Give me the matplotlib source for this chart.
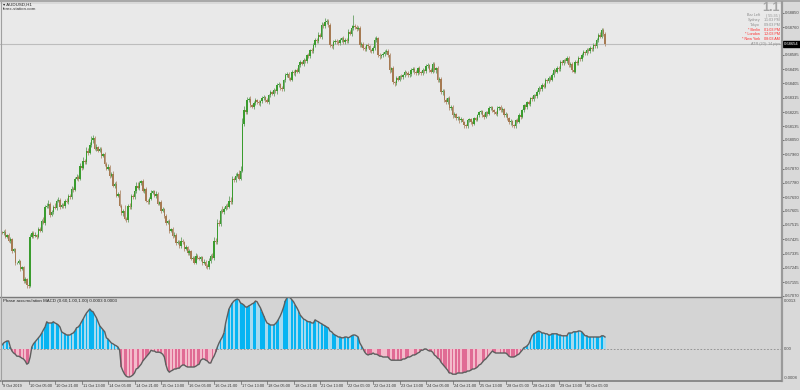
import numpy as np
import matplotlib
matplotlib.use("Agg")
import matplotlib.pyplot as plt
from matplotlib.lines import Line2D
from matplotlib.patches import Rectangle

plt.rcParams['font.family'] = ['Liberation Sans', 'DejaVu Sans']

# ---------------- data ----------------
# H1 closes, in points (1e-5) above 0.67000
close_pts = [
    466, 474, 441, 452, 416, 428, 352, 362, 277,
    277, 290, 239, 250, 163, 175, 138, 130, 441,
    466, 445, 453, 440, 491, 480, 542, 530, 630,
    636, 650, 580, 595, 630, 622, 668, 675, 630,
    643, 632, 668, 660, 700, 690, 744, 735, 807,
    819, 805, 889, 875, 920, 910, 983, 970, 1015,
    1047, 1060, 996, 1005, 983, 992, 952, 960, 901,
    870, 882, 826, 835, 763, 775, 700, 712, 636,
    592, 605, 554, 545, 636, 625, 700, 690, 731,
    763, 750, 782, 790, 731, 740, 668, 660, 681,
    719, 728, 700, 710, 649, 660, 605, 615, 573,
    529, 540, 479, 490, 447, 455, 403, 410, 384,
    416, 405, 365, 375, 340, 350, 302, 310, 277,
    321, 310, 302, 312, 277, 285, 258, 250, 289,
    321, 310, 416, 405, 529, 520, 605, 598, 618,
    636, 628, 668, 660, 807, 798, 826, 835, 807,
    857, 1150, 1236, 1225, 1299, 1310, 1267, 1260, 1280,
    1299, 1288, 1280, 1292, 1312, 1320, 1299, 1290, 1331,
    1350, 1340, 1362, 1355, 1394, 1402, 1375, 1368, 1425,
    1457, 1465, 1438, 1430, 1476, 1468, 1488, 1480, 1520,
    1539, 1530, 1551, 1545, 1583, 1575, 1615, 1608, 1646,
    1678, 1670, 1709, 1700, 1772, 1765, 1791, 1800, 1772,
    1646, 1638, 1665, 1675, 1665, 1658, 1678, 1688, 1665,
    1678, 1670, 1728, 1718, 1753, 1765, 1760, 1750, 1753,
    1646, 1655, 1627, 1620, 1646, 1638, 1615, 1608, 1627,
    1678, 1690, 1583, 1575, 1583, 1592, 1602, 1610, 1583,
    1488, 1500, 1413, 1405, 1438, 1430, 1450, 1444, 1457,
    1476, 1468, 1457, 1465, 1488, 1496, 1476, 1470, 1501,
    1476, 1470, 1488, 1482, 1513, 1520, 1488, 1480, 1526,
    1488, 1500, 1425, 1435, 1350, 1360, 1299, 1290, 1312,
    1249, 1260, 1204, 1212, 1185, 1192, 1173, 1180, 1160,
    1141, 1135, 1173, 1180, 1160, 1152, 1185, 1178, 1204,
    1223, 1230, 1204, 1196, 1223, 1215, 1249, 1255, 1236,
    1223, 1215, 1249, 1256, 1236, 1244, 1204, 1212, 1185,
    1160, 1168, 1141, 1135, 1173, 1165, 1204, 1196, 1236,
    1267, 1258, 1286, 1278, 1312, 1305, 1331, 1324, 1350,
    1375, 1368, 1394, 1386, 1425, 1418, 1438, 1430, 1457,
    1488, 1480, 1501, 1494, 1539, 1532, 1551, 1545, 1564,
    1520, 1530, 1488, 1480, 1539, 1532, 1564, 1556, 1583,
    1602, 1595, 1615, 1608, 1627, 1620, 1646, 1640, 1678,
    1709, 1700, 1741, 1715, 1654,
]
first_open_pts = 470

# upper / lower wick extension beyond the body, in points
hi_ext = [
    10, 8, 15, 6, 12, 9, 5, 11, 7,
    8, 14, 6, 10, 5, 12, 9, 20, 15,
    12, 9, 18, 7, 10, 14, 8, 25, 12,
    15, 20, 8, 12, 10, 22, 9, 14, 11,
    8, 12, 10, 15, 9, 13, 18, 10, 12,
    14, 9, 16, 11, 20, 12, 25, 15, 22,
    30, 18, 12, 20, 9, 14, 11, 8, 13,
    10, 15, 9, 12, 18, 8, 14, 10, 20,
    12, 9, 35, 14, 10, 16, 12, 9, 18,
    20, 25, 12, 10, 15, 9, 13, 11, 8,
    14, 10, 9, 16, 12, 8, 11, 10, 9,
    12, 8, 14, 9, 10, 13, 7, 11, 9,
    25, 10, 8, 12, 9, 11, 7, 10, 8,
    15, 12, 9, 10, 8, 13, 10, 12, 18,
    14, 20, 25, 18, 22, 15, 12, 30, 10,
    12, 15, 30, 20, 14, 10, 18, 12, 25,
    30, 40, 25, 18, 20, 12, 15, 10, 14,
    12, 10, 15, 9, 14, 11, 8, 13, 10,
    12, 9, 14, 10, 16, 12, 9, 15, 11,
    14, 10, 12, 9, 15, 11, 8, 12, 10,
    12, 9, 14, 11, 10, 13, 9, 15, 12,
    14, 10, 18, 12, 20, 15, 25, 12, 10,
    12, 9, 15, 11, 10, 14, 12, 9, 13,
    15, 12, 18, 14, 20, 70, 12, 10, 14,
    15, 12, 10, 14, 9, 12, 11, 10, 13,
    18, 14, 10, 12, 9, 14, 11, 10, 12,
    15, 10, 12, 9, 14, 11, 10, 12, 9,
    12, 10, 14, 9, 12, 11, 10, 13, 9,
    12, 10, 14, 11, 15, 12, 10, 13, 14,
    12, 10, 14, 9, 12, 10, 8, 12, 10,
    12, 10, 9, 11, 8, 10, 9, 12, 10,
    10, 12, 9, 11, 10, 12, 9, 11, 10,
    12, 10, 9, 13, 11, 10, 12, 9, 11,
    10, 12, 14, 9, 11, 10, 9, 12, 10,
    10, 12, 9, 11, 10, 12, 13, 11, 10,
    12, 10, 11, 13, 10, 12, 11, 10, 12,
    12, 10, 13, 11, 12, 10, 14, 11, 12,
    13, 10, 12, 14, 11, 12, 10, 13, 12,
    15, 12, 10, 13, 11, 14, 12, 10, 13,
    12, 10, 13, 11, 12, 10, 14, 12, 15,
    14, 20, 12, 10, 11,
]
lo_ext = [
    8, 12, 7, 10, 9, 15, 11, 8, 14,
    10, 7, 12, 9, 14, 10, 18, 12, 8,
    9, 12, 8, 11, 10, 7, 12, 9, 14,
    10, 14, 12, 8, 11, 9, 13, 10, 12,
    11, 9, 13, 8, 12, 10, 9, 14, 8,
    10, 13, 9, 12, 8, 11, 10, 14, 9,
    12, 15, 10, 18, 12, 9, 14, 10, 12,
    9, 12, 14, 10, 11, 15, 9, 12, 10,
    15, 20, 10, 9, 12, 8, 11, 10, 9,
    12, 9, 14, 18, 10, 12, 9, 13, 10,
    9, 12, 10, 14, 11, 9, 13, 10, 12,
    11, 9, 13, 10, 12, 9, 14, 10, 15,
    12, 10, 14, 9, 11, 13, 10, 12, 9,
    10, 12, 9, 11, 14, 10, 12, 9, 11,
    12, 10, 14, 9, 11, 13, 12, 10, 12,
    10, 14, 9, 12, 11, 10, 13, 12, 10,
    12, 10, 15, 9, 14, 12, 10, 11, 13,
    10, 12, 9, 14, 10, 12, 11, 9, 12,
    11, 9, 12, 10, 13, 11, 9, 12, 10,
    10, 13, 9, 11, 12, 10, 14, 9, 11,
    11, 9, 12, 10, 13, 9, 11, 10, 12,
    10, 12, 9, 11, 13, 10, 12, 14, 11,
    12, 10, 13, 11, 9, 12, 10, 14, 11,
    10, 12, 11, 9, 13, 10, 14, 12, 11,
    12, 14, 10, 13, 11, 12, 10, 14, 12,
    14, 12, 10, 13, 11, 9, 12, 10, 13,
    14, 12, 10, 13, 9, 11, 10, 12, 11,
    10, 12, 11, 9, 13, 10, 12, 11, 10,
    11, 10, 12, 13, 10, 12, 11, 10, 12,
    12, 14, 11, 13, 12, 15, 10, 12, 11,
    12, 10, 13, 11, 12, 10, 14, 12, 11,
    13, 10, 12, 11, 10, 12, 11, 10, 12,
    10, 12, 11, 13, 10, 12, 11, 10, 12,
    12, 10, 13, 11, 12, 10, 12, 11, 10,
    12, 14, 11, 10, 12, 11, 10, 12, 11,
    10, 12, 11, 10, 12, 10, 11, 12, 10,
    11, 10, 12, 11, 10, 12, 11, 10, 12,
    10, 12, 11, 10, 12, 11, 10, 12, 11,
    14, 12, 11, 10, 12, 11, 10, 12, 11,
    11, 10, 12, 11, 10, 12, 11, 10, 12,
    10, 12, 11, 10, 12,
]

# Phase accumulation MACD values, in 1e-5
macd_vals = [
    10, 15, 18, 20, 20, 5, -5, -10, -13,
    -18, -18, -20, -23, -25, -30, -38, -35, -20,
    5, 13, 18, 23, 28, 33, 40, 48, 55,
    68, 65, 65, 65, 68, 65, 63, 60, 55,
    43, 40, 38, 35, 35, 35, 38, 40, 45,
    53, 55, 60, 68, 75, 83, 90, 95, 100,
    95, 93, 85, 78, 68, 58, 53, 48, 43,
    28, 25, 20, 15, 13, 10, 8, 5, -3,
    -45, -55, -63, -68, -70, -70, -68, -65, -60,
    -50, -48, -43, -38, -30, -25, -20, -15, -10,
    -3, -5, -5, -8, -8, -8, -10, -13, -20,
    -40, -53, -58, -55, -53, -50, -50, -48, -48,
    -43, -40, -40, -43, -45, -45, -45, -45, -45,
    -43, -40, -38, -28, -25, -25, -28, -30, -35,
    -35, -25, -18, -8, 5, 15, 23, 30, 40,
    65, 83, 100, 108, 115, 120, 123, 125, 123,
    115, 113, 110, 105, 105, 108, 110, 113, 115,
    120, 118, 110, 103, 93, 83, 73, 65, 63,
    60, 60, 60, 63, 68, 75, 83, 93, 105,
    120, 128, 130, 128, 123, 118, 110, 103, 95,
    85, 80, 75, 73, 70, 68, 68, 65, 65,
    73, 70, 68, 65, 63, 60, 58, 55, 53,
    45, 43, 38, 35, 33, 30, 30, 28, 28,
    30, 30, 28, 30, 33, 35, 35, 33, 30,
    15, 8, 0, -8, -13, -15, -13, -13, -10,
    -13, -13, -15, -18, -18, -20, -20, -20, -20,
    -25, -28, -28, -28, -28, -28, -28, -28, -25,
    -25, -23, -20, -20, -18, -15, -15, -13, -10,
    -8, -3, -3, 0, 0, -3, -5, -5, -8,
    -15, -18, -23, -25, -33, -38, -43, -48, -53,
    -60, -60, -63, -63, -63, -60, -60, -60, -60,
    -58, -58, -55, -55, -53, -50, -50, -48, -45,
    -40, -38, -33, -28, -25, -20, -15, -10, -5,
    -8, -10, -10, -10, -10, -10, -10, -10, -13,
    -18, -20, -20, -20, -18, -15, -13, -8, -3,
    3, 5, 8, 13, 23, 33, 38, 40, 43,
    45, 43, 40, 40, 38, 38, 35, 35, 38,
    38, 38, 38, 35, 35, 33, 33, 33, 33,
    40, 40, 40, 43, 43, 43, 45, 45, 43,
    38, 33, 33, 30, 30, 30, 30, 30, 30,
    30, 30, 33, 33, 30,
]

date_labels = ["9 Oct 2019", "10 Oct 05:00", "10 Oct 21:00", "11 Oct 13:00",
               "14 Oct 05:00", "14 Oct 21:00", "15 Oct 13:00", "16 Oct 05:00",
               "16 Oct 21:00", "17 Oct 13:00", "18 Oct 05:00", "18 Oct 21:00",
               "21 Oct 13:00", "22 Oct 05:00", "22 Oct 21:00", "23 Oct 13:00",
               "24 Oct 05:00", "24 Oct 21:00", "25 Oct 13:00", "28 Oct 05:00",
               "28 Oct 21:00", "29 Oct 13:00", "30 Oct 05:00"]
bars_per_label = 16

price_ticks = [0.68850, 0.68760, 0.68585, 0.68495, 0.68405, 0.68315, 0.68225,
               0.68135, 0.68050, 0.67960, 0.67870, 0.67780, 0.67690, 0.67605,
               0.67515, 0.67425, 0.67335, 0.67245, 0.67155, 0.67070]
price_range = (0.67062, 0.68905)
macd_range = (-0.0008, 0.0013)

info_rows = [("Bar Left", "( 55:35 )", "#8c8c8c"),
             ("Sydney", "11:03 PM", "#8c8c8c"),
             ("Tokyo", "09:03 PM", "#8c8c8c"),
             ("* Berlin", "01:03 PM", "#ff2a2a"),
             ("* London", "12:03 PM", "#ff2a2a"),
             ("* New York", "08:03 AM", "#ff2a2a")]

# ---------------- figure ----------------
n = min(len(close_pts), len(hi_ext), len(lo_ext), len(macd_vals))
close = 0.67 + np.array(close_pts[:n]) / 1e5
opens = np.concatenate([[0.67 + first_open_pts / 1e5], close[:-1]])
highs = np.maximum(opens, close) + np.array(hi_ext[:n]) / 1e5
lows = np.minimum(opens, close) - np.array(lo_ext[:n]) / 1e5
macd = np.array(macd_vals[:n]) / 1e5
x = np.arange(n)

W, H = 800, 390
fig = plt.figure(figsize=(8, 3.9), dpi=100, facecolor="#d9d9d9")

def fx(px):
    return px / W

def fy(py):
    return 1 - py / H

sp = (605 - 2) / (n - 1)          # pixels per bar
xl = (-2 / sp, (781 - 2) / sp)

ax = fig.add_axes([0, fy(297), fx(781), (297 - 4) / H])
ax2 = fig.add_axes([0, fy(381), fx(781), (381 - 297) / H])

for a in (ax, ax2):
    for s in a.spines.values():
        s.set_visible(False)
    a.set_xlim(*xl)
    a.set_xticks([])

ax.set_facecolor("#e9e9e9")
ax2.set_facecolor("#d4d4d4")

# ---- candles ----
up = close >= opens
wick_cols = np.where(up, "#79aa76", "#b89a80")
ax.vlines(x, lows, highs, colors=wick_cols, linewidth=0.7, zorder=2)
body_h = np.maximum(np.abs(close - opens), 0.000014)
ax.bar(x, body_h, bottom=np.minimum(opens, close), width=0.85,
       color=np.where(up, "#3a9c2e", "#a67a52"), linewidth=0, zorder=3)

ax.set_ylim(*price_range)
ax.axhline(close[-1], color="#bdbdbd", lw=0.8, zorder=1)
ax.yaxis.tick_right()
ax.set_yticks(price_ticks)
ax.set_yticklabels([f"{t:.5f}" for t in price_ticks])
ax.tick_params(axis="y", length=2, width=0.5, pad=1.0, labelsize=3.0,
               colors="#444444")
ax.annotate(f"{close[-1]:.5f}", xy=(1.0, close[-1]),
            xycoords=("axes fraction", "data"), xytext=(2.2, 0),
            textcoords="offset points", fontsize=3.0, color="white",
            va="center", ha="left",
            bbox=dict(boxstyle="square,pad=0.2", fc="black", ec="black"))

# ---- indicator ----
pos = macd >= 0
cols = np.where(pos, np.where(up, "#06b4f2", "#a6daef"),
                np.where(~up, "#e06b94", "#f3bccb"))
ax2.bar(x, macd, width=1.0, color=cols, linewidth=0, zorder=2)
ax2.plot(x, macd, color="#5e5e5e", lw=1.0, zorder=3)
ax2.axhline(0, color="#8a8a8a", lw=0.6, ls=(0, (2, 2)), zorder=1)
ax2.set_ylim(*macd_range)
ax2.set_yticks([])

# ---- frame lines ----
fig.add_artist(Rectangle((0, fy(2)), 1, 2 / H, transform=fig.transFigure,
                         fc="#a9a9a9", ec="none"))
fig.add_artist(Line2D([fx(781.5)] * 2, [fy(2), fy(381)], transform=fig.transFigure,
                      color="#9a9a9a", lw=1.6))
fig.add_artist(Line2D([0, fx(781)], [fy(297)] * 2, transform=fig.transFigure,
                      color="#7a7a7a", lw=1.0))
fig.add_artist(Line2D([0, fx(781)], [fy(381)] * 2, transform=fig.transFigure,
                      color="#8a8a8a", lw=1.4))
fig.add_artist(Line2D([fx(0.5)] * 2, [fy(2), fy(381)], transform=fig.transFigure,
                      color="#a0a0a0", lw=0.8))

# ---- date labels ----
for k, lab in enumerate(date_labels):
    px = 2 + k * bars_per_label * sp
    fig.add_artist(Line2D([fx(px)] * 2, [fy(381), fy(384)], transform=fig.transFigure,
                          color="#666666", lw=0.5))
    fig.text(fx(px + 1), fy(386), lab, fontsize=2.8, color="#333333",
             ha="left", va="center")

# ---- indicator axis labels ----
fig.text(fx(784), fy(301), "0.0013", fontsize=3.0, color="#444444", va="center")
fig.text(fx(784), fy(349), "0.00", fontsize=3.0, color="#444444", va="center")
fig.text(fx(784), fy(378), "-0.0008", fontsize=3.0, color="#444444", va="center")
fig.text(fx(3), fy(301), "Phase accumulation MACD (0.60,1.00,1.00) 0.0003 0.0003",
         fontsize=3.2, color="#222222", va="center")

# ---- titles ----
fig.text(fx(3), fy(5), "\u25be AUDUSD,H1", fontsize=3.2, color="#222222", va="center")
fig.text(fx(3), fy(9.5), "forex-station.com", fontsize=3.2, color="#333333", va="center")

# ---- info panel ----
fig.text(fx(780), fy(8), "1.1", fontsize=9, color="#a3a3a3", weight="bold",
         ha="right", va="center")
for r, (lab, val, col) in enumerate(info_rows):
    yy = 15.5 + r * 4.7
    fig.text(fx(760), fy(yy), lab, fontsize=2.7, color=col, ha="right", va="center")
    fig.text(fx(780), fy(yy), val, fontsize=2.7, color=col, ha="right", va="center")
fig.text(fx(780), fy(44), "ATR (20): 14 pips", fontsize=2.7, color="#8c8c8c",
         ha="right", va="center")

fig.savefig("out.png", dpi=100, facecolor=fig.get_facecolor())
